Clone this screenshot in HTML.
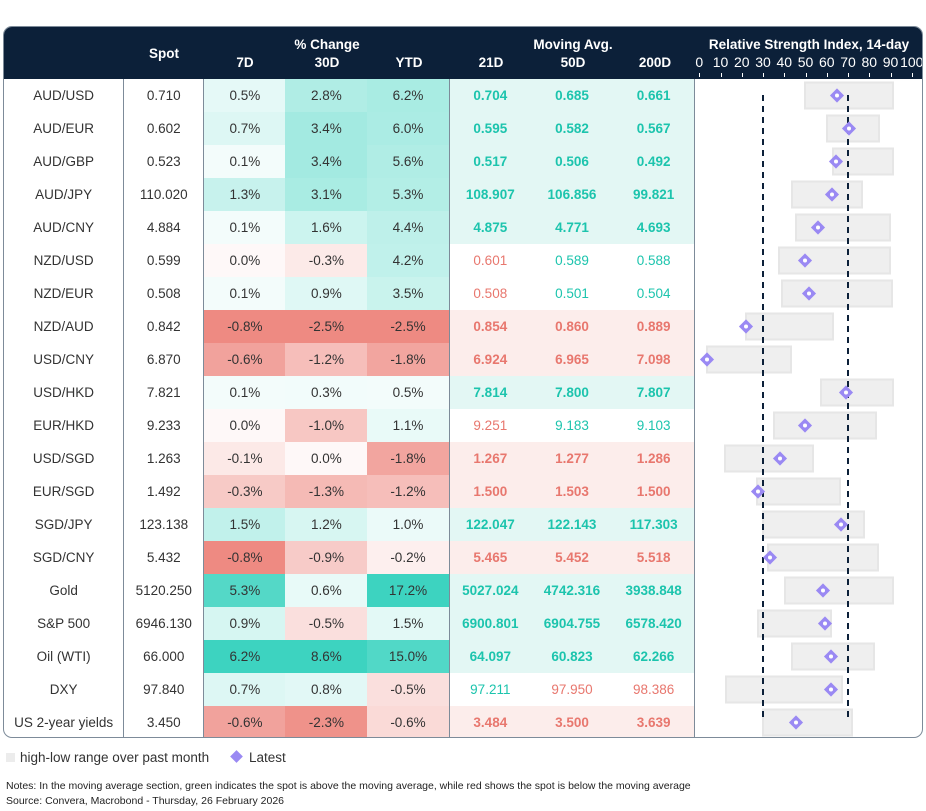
<!DOCTYPE html>
<html><head><meta charset="utf-8"><style>
body{margin:0;width:926px;height:811px;background:#fff;font-family:"Liberation Sans",sans-serif;position:relative;overflow:hidden}
#box{position:absolute;left:3px;top:26px;width:918px;height:710px;border:1px solid #7d8b99;border-radius:9px;overflow:hidden}
#hdr{position:absolute;left:0;top:0;width:918px;height:52px;background:#0c2039}
.h{position:absolute;color:#fff;font-weight:bold;font-size:13.5px;text-align:center;white-space:nowrap}
table{position:absolute;left:0;top:52px;border-collapse:collapse;table-layout:fixed}
td{height:33px;padding:0;text-align:center;font-size:13.5px;color:#333}
td.l{border-right:1px solid #7d8b99}
.g{color:#1cc4ad}.r{color:#e8776e}.b{font-weight:bold}
.gb{background:#e3f7f4}.rb{background:#fcedeb}
.tick{position:absolute;top:46px;width:1px;height:4px;background:#fff}
</style></head><body>
<div id="box">
<div id="hdr">
<div class="h" style="left:120px;width:80px;top:19px">Spot</div>
<div class="h" style="left:200px;width:246px;top:10px">% Change</div>
<div class="h" style="left:200px;width:82px;top:28px">7D</div>
<div class="h" style="left:282px;width:82px;top:28px">30D</div>
<div class="h" style="left:364px;width:82px;top:28px">YTD</div>
<div class="h" style="left:446px;width:246px;top:10px">Moving Avg.</div>
<div class="h" style="left:446px;width:82px;top:28px">21D</div>
<div class="h" style="left:528px;width:82px;top:28px">50D</div>
<div class="h" style="left:610px;width:82px;top:28px">200D</div>
<div class="h" style="left:692px;width:226px;top:10px">Relative Strength Index, 14-day</div>
<div id="ax"></div>
</div>
<table id="t">
<colgroup><col style="width:120px"><col style="width:80px"><col style="width:82px"><col style="width:82px"><col style="width:82px"><col style="width:82px"><col style="width:82px"><col style="width:82px"><col style="width:228px"></colgroup>
<tr><td class="l">AUD/USD</td><td class="l">0.710</td><td class="p">0.5%</td><td class="p">2.8%</td><td class="p l">6.2%</td><td class="g b">0.704</td><td class="g b">0.685</td><td class="g b l">0.661</td><td></td></tr>
<tr><td class="l">AUD/EUR</td><td class="l">0.602</td><td class="p">0.7%</td><td class="p">3.4%</td><td class="p l">6.0%</td><td class="g b">0.595</td><td class="g b">0.582</td><td class="g b l">0.567</td><td></td></tr>
<tr><td class="l">AUD/GBP</td><td class="l">0.523</td><td class="p">0.1%</td><td class="p">3.4%</td><td class="p l">5.6%</td><td class="g b">0.517</td><td class="g b">0.506</td><td class="g b l">0.492</td><td></td></tr>
<tr><td class="l">AUD/JPY</td><td class="l">110.020</td><td class="p">1.3%</td><td class="p">3.1%</td><td class="p l">5.3%</td><td class="g b">108.907</td><td class="g b">106.856</td><td class="g b l">99.821</td><td></td></tr>
<tr><td class="l">AUD/CNY</td><td class="l">4.884</td><td class="p">0.1%</td><td class="p">1.6%</td><td class="p l">4.4%</td><td class="g b">4.875</td><td class="g b">4.771</td><td class="g b l">4.693</td><td></td></tr>
<tr><td class="l">NZD/USD</td><td class="l">0.599</td><td class="p">0.0%</td><td class="p">-0.3%</td><td class="p l">4.2%</td><td class="r">0.601</td><td class="g">0.589</td><td class="g l">0.588</td><td></td></tr>
<tr><td class="l">NZD/EUR</td><td class="l">0.508</td><td class="p">0.1%</td><td class="p">0.9%</td><td class="p l">3.5%</td><td class="r">0.508</td><td class="g">0.501</td><td class="g l">0.504</td><td></td></tr>
<tr><td class="l">NZD/AUD</td><td class="l">0.842</td><td class="p">-0.8%</td><td class="p">-2.5%</td><td class="p l">-2.5%</td><td class="r b">0.854</td><td class="r b">0.860</td><td class="r b l">0.889</td><td></td></tr>
<tr><td class="l">USD/CNY</td><td class="l">6.870</td><td class="p">-0.6%</td><td class="p">-1.2%</td><td class="p l">-1.8%</td><td class="r b">6.924</td><td class="r b">6.965</td><td class="r b l">7.098</td><td></td></tr>
<tr><td class="l">USD/HKD</td><td class="l">7.821</td><td class="p">0.1%</td><td class="p">0.3%</td><td class="p l">0.5%</td><td class="g b">7.814</td><td class="g b">7.800</td><td class="g b l">7.807</td><td></td></tr>
<tr><td class="l">EUR/HKD</td><td class="l">9.233</td><td class="p">0.0%</td><td class="p">-1.0%</td><td class="p l">1.1%</td><td class="r">9.251</td><td class="g">9.183</td><td class="g l">9.103</td><td></td></tr>
<tr><td class="l">USD/SGD</td><td class="l">1.263</td><td class="p">-0.1%</td><td class="p">0.0%</td><td class="p l">-1.8%</td><td class="r b">1.267</td><td class="r b">1.277</td><td class="r b l">1.286</td><td></td></tr>
<tr><td class="l">EUR/SGD</td><td class="l">1.492</td><td class="p">-0.3%</td><td class="p">-1.3%</td><td class="p l">-1.2%</td><td class="r b">1.500</td><td class="r b">1.503</td><td class="r b l">1.500</td><td></td></tr>
<tr><td class="l">SGD/JPY</td><td class="l">123.138</td><td class="p">1.5%</td><td class="p">1.2%</td><td class="p l">1.0%</td><td class="g b">122.047</td><td class="g b">122.143</td><td class="g b l">117.303</td><td></td></tr>
<tr><td class="l">SGD/CNY</td><td class="l">5.432</td><td class="p">-0.8%</td><td class="p">-0.9%</td><td class="p l">-0.2%</td><td class="r b">5.465</td><td class="r b">5.452</td><td class="r b l">5.518</td><td></td></tr>
<tr><td class="l">Gold</td><td class="l">5120.250</td><td class="p">5.3%</td><td class="p">0.6%</td><td class="p l">17.2%</td><td class="g b">5027.024</td><td class="g b">4742.316</td><td class="g b l">3938.848</td><td></td></tr>
<tr><td class="l">S&amp;P 500</td><td class="l">6946.130</td><td class="p">0.9%</td><td class="p">-0.5%</td><td class="p l">1.5%</td><td class="g b">6900.801</td><td class="g b">6904.755</td><td class="g b l">6578.420</td><td></td></tr>
<tr><td class="l">Oil (WTI)</td><td class="l">66.000</td><td class="p">6.2%</td><td class="p">8.6%</td><td class="p l">15.0%</td><td class="g b">64.097</td><td class="g b">60.823</td><td class="g b l">62.266</td><td></td></tr>
<tr><td class="l">DXY</td><td class="l">97.840</td><td class="p">0.7%</td><td class="p">0.8%</td><td class="p l">-0.5%</td><td class="g">97.211</td><td class="r">97.950</td><td class="r l">98.386</td><td></td></tr>
<tr><td class="l">US 2-year yields</td><td class="l">3.450</td><td class="p">-0.6%</td><td class="p">-2.3%</td><td class="p l">-0.6%</td><td class="r b">3.484</td><td class="r b">3.500</td><td class="r b l">3.639</td><td></td></tr>
</table>
<svg id="rsi" style="position:absolute;left:0;top:0" width="918" height="710"></svg>
</div>
<div style="position:absolute;left:6px;top:753px;width:9px;height:9px;background:#ececec"></div>
<div style="position:absolute;left:20px;top:750px;font-size:13.5px;color:#333">high-low range over past month</div>
<div style="position:absolute;left:232px;top:752px;width:9px;height:9px;background:#9a89f3;transform:rotate(45deg)"></div>
<div style="position:absolute;left:249px;top:750px;font-size:13.5px;color:#333">Latest</div>
<div style="position:absolute;left:6px;top:780px;font-size:10.5px;color:#222">Notes: In the moving average section, green indicates the spot is above the moving average, while red shows the spot is below the moving average</div>
<div style="position:absolute;left:6px;top:795px;font-size:10.5px;color:#222">Source: Convera, Macrobond - Thursday, 26 February 2026</div>
<script>
var rows=document.querySelectorAll('#t tr');
rows.forEach(function(tr){var c=tr.children;var g=c[5].classList.contains('b')&&c[5].classList.contains('g');var r=c[5].classList.contains('b')&&c[5].classList.contains('r');
for(var i=5;i<8;i++){if(g)c[i].classList.add('gb');if(r)c[i].classList.add('rb');}});
for(var col=2;col<5;col++){var mx=0,mn=0;rows.forEach(function(tr){var v=parseFloat(tr.children[col].textContent);mx=Math.max(mx,v);mn=Math.min(mn,v);});
rows.forEach(function(tr){var td=tr.children[col];var v=parseFloat(td.textContent);var t,cc;
if(v>0){t=Math.pow(v/mx,0.8);cc=[61,211,192];}else if(v<0){t=Math.pow(v/mn,0.8);cc=[238,138,130];}else{t=0.04;cc=[238,138,130];}
t=Math.max(t,0.06);var rgb=cc.map(function(x){return Math.round(255-(255-x)*t)});td.style.background='rgb('+rgb.join(',')+')';});}
var ax=document.getElementById('ax'),h='';
function X(v){return 698.25+v*2.125-3;}
for(var v=0;v<=100;v+=10){h+='<div class="h" style="font-weight:normal;font-size:14px;top:27px;left:'+(X(v)-15)+'px;width:30px">'+v+'</div><div class="tick" style="left:'+X(v)+'px"></div>';}
ax.innerHTML=h;
var d=[[805,893,837],[827,879,849],[833,893,836],[792,862,832],[796,890,818],[779,890,805],[782,892,809],[746,833,746],[707,791,707],[821,893,846],[774,876,805],[725,813,780],[757,840,758],[763,864,841],[768,878,770],[785,893,823],[758,831,825],[792,874,831],[726,842,831],[763,852,796]];
var s='';
d.forEach(function(r,i){var cy=52+i*33+16.5;s+='<rect x="'+(r[0]-4)+'" y="'+(cy-13)+'" width="'+(r[1]-r[0])+'" height="26" fill="#efefef" stroke="#e6e6e6" stroke-width="2"/>';});
s+='<line x1="759" y1="68" x2="759" y2="694" stroke="#0c2039" stroke-width="2" stroke-dasharray="6,5"/><line x1="844" y1="68" x2="844" y2="694" stroke="#0c2039" stroke-width="2" stroke-dasharray="6,5"/>';
d.forEach(function(r,i){var cy=52+i*33+16.5,cx=r[2]-4;s+='<rect x="'+(cx-5)+'" y="'+(cy-5)+'" width="10" height="10" fill="#9a89f3" transform="rotate(45 '+cx+' '+cy+')"/><circle cx="'+cx+'" cy="'+cy+'" r="2" fill="#fff"/>';});
document.getElementById('rsi').innerHTML=s;
</script>
</body></html>
